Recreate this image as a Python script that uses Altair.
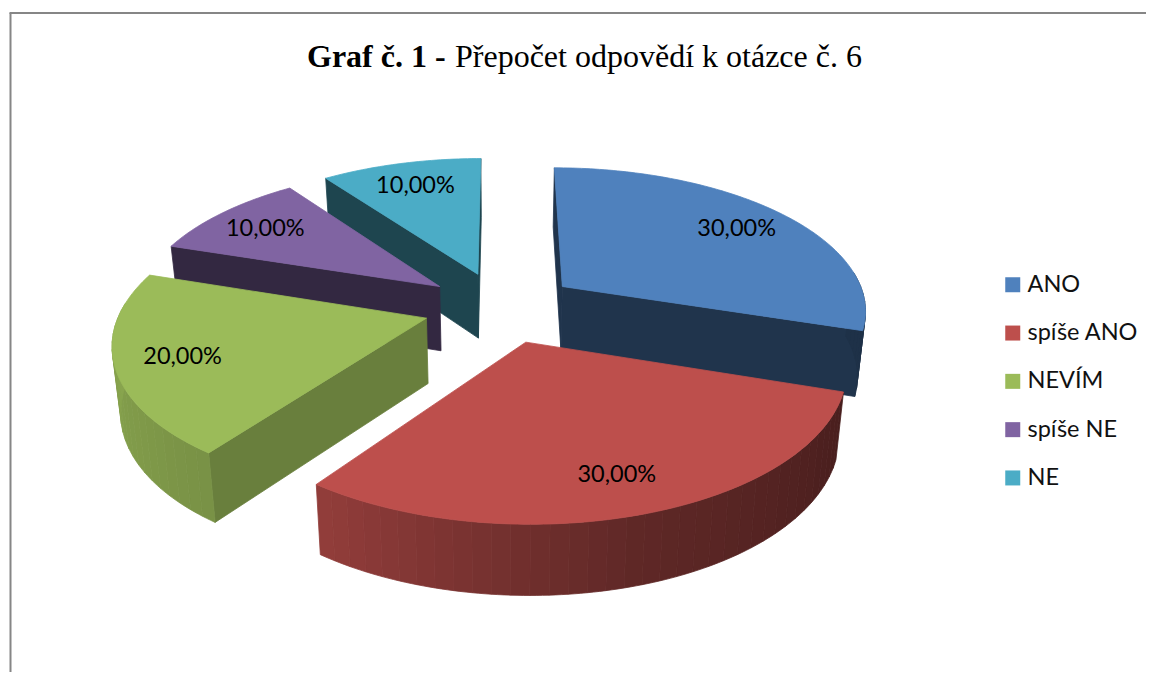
import numpy as np
import altair as alt

categories = ["ANO", "spíše ANO", "NEVÍM", "spíše NE", "NE"]
shares = [30, 30, 20, 10, 10]
labels = ["30,00%", "30,00%", "20,00%", "10,00%", "10,00%"]
colors = ["#4f81bd", "#bd4f4c", "#9bbb59", "#8064a2", "#4bacc6"]

# 3D pie geometry: homography of a unit disc, canvas pixels
CX, CY, A, B, K = 493.0, 299.0, 305.0, 142.5, 0.152
EXPLODE_U, EXPLODE_V, LABEL_R, SHRINK = 0.254, 0.25, 0.79, 0.978


def project(u, v):
    w = 1 + K * v
    return CX + A * u / w, CY - B * v / w


def bottom(u, v):
    x, y = project(u, v)
    return CX + (x - CX) * SHRINK, y + 65 - 5 * v


def hex_shade(col, f):
    rgb = [int(col[i:i + 2], 16) for i in (1, 3, 5)]
    return "#%02x%02x%02x" % tuple(int(round(c * f)) for c in rgb)


def outer_shade(t):
    return float(np.interp(t, [0, 108, 162, 216, 288, 360], [0.38, 0.38, 0.5, 0.78, 0.92, 0.9]))


def feature(pts, fill):
    ring = [[float(x), float(y)] for x, y in pts]
    ring.append(ring[0])
    return {"type": "Feature", "properties": {"fill": fill},
            "geometry": {"type": "Polygon", "coordinates": [ring]}}


edges = np.concatenate([[0], np.cumsum(shares)]) * 3.6
features, label_rows = [], []
for i in [4, 3, 0, 2, 1]:
    t0, t1 = edges[i], edges[i + 1]
    mid = np.radians((t0 + t1) / 2)
    ou, ov = EXPLODE_U * np.sin(mid), EXPLODE_V * np.cos(mid)
    # fine rim for the top face, coarser strips for the shaded outer wall
    ts = np.linspace(t0, t1, int(t1 - t0) + 1)
    rim = [(ou + np.sin(np.radians(t)), ov + np.cos(np.radians(t))) for t in ts]
    # radial walls facing the viewer only
    for p, t, normal in ((rim[0], t0, t0 - 90), (rim[-1], t1, t1 + 90)):
        if np.cos(np.radians(normal)) < 0.01:
            f = 0.68 if i == 2 else 0.4
            features.append(feature([project(ou, ov), project(*p), bottom(*p), bottom(ou, ov)],
                                    hex_shade(colors[i], f)))
    # outer wall, front half only, shaded strip by strip
    step = 3
    for j in range(0, len(rim) - 1, step):
        seg = rim[j:j + step + 1]
        tm = ts[min(j + step // 2, len(ts) - 1)]
        if np.cos(np.radians(tm)) < 0.1:
            f = outer_shade(tm)
            pts = [project(*p) for p in seg] + [bottom(*p) for p in reversed(seg)]
            features.append(feature(pts, hex_shade(colors[i], f)))
    # top face
    features.append(feature([project(ou, ov)] + [project(*p) for p in rim], colors[i]))
    lx, ly = project(ou + LABEL_R * np.sin(mid), ov + LABEL_R * np.cos(mid))
    label_rows.append({"label": labels[i], "lon": float(lx), "lat": float(ly)})

pie = alt.Chart(alt.Data(values=features)).mark_geoshape(strokeWidth=0.8).encode(
    fill=alt.Fill("properties.fill:N", scale=None, legend=None),
    stroke=alt.Stroke("properties.fill:N", scale=None, legend=None),
)

FONT = "Lato"
text_labels = alt.Chart(alt.Data(values=label_rows)).mark_text(
    font=FONT, fontSize=23.5, color="#000000", align="center", baseline="middle", dy=2
).encode(longitude="lon:Q", latitude="lat:Q", text="label:N")

legend_data = [{"cat": c} for c in categories]
legend_layer = alt.Chart(alt.Data(values=legend_data)).mark_point(filled=True, opacity=0).encode(
    x=alt.value(0), y=alt.value(0),
    color=alt.Color(
        "cat:N",
        scale=alt.Scale(domain=categories, range=colors),
        legend=alt.Legend(
            orient="none", legendX=993, legendY=265, title=None,
            symbolType="square", symbolSize=225, symbolOpacity=1, symbolStrokeWidth=0,
            labelFont=FONT, labelFontSize=23.5, labelColor="#111111", labelOffset=3,
            rowPadding=23.3, labelLimit=200,
        ),
    ),
)

title_a = alt.Chart(alt.Data(values=[{"t": "Graf č. 1 -"}])).mark_text(
    font="Liberation Serif", fontSize=32, fontWeight="bold", align="left", baseline="alphabetic", color="#000000"
).encode(x=alt.value(299), y=alt.value(59), text="t:N")
title_b = alt.Chart(alt.Data(values=[{"t": "Přepočet odpovědí k otázce č. 6"}])).mark_text(
    font="Liberation Serif", fontSize=32, align="left", baseline="alphabetic", color="#000000"
).encode(x=alt.value(447), y=alt.value(59), text="t:N")

frame_top = alt.Chart(alt.Data(values=[{"a": 1}])).mark_rule(color="#868686", strokeWidth=2).encode(
    x=alt.value(1.5), x2=alt.value(1138), y=alt.value(5))
frame_left = alt.Chart(alt.Data(values=[{"a": 1}])).mark_rule(color="#868686", strokeWidth=2).encode(
    x=alt.value(2.5), y=alt.value(5), y2=alt.value(664))

chart = alt.layer(
    frame_top, frame_left, pie, text_labels, legend_layer, title_a, title_b
).project(type="identity", scale=1, translate=[0, 0]).properties(
    width=1138, height=664, padding=0, autosize=alt.AutoSizeParams(type="none")
).configure_view(stroke=None)

chart.save("out.html", embed_options={"renderer": "svg", "actions": False})
